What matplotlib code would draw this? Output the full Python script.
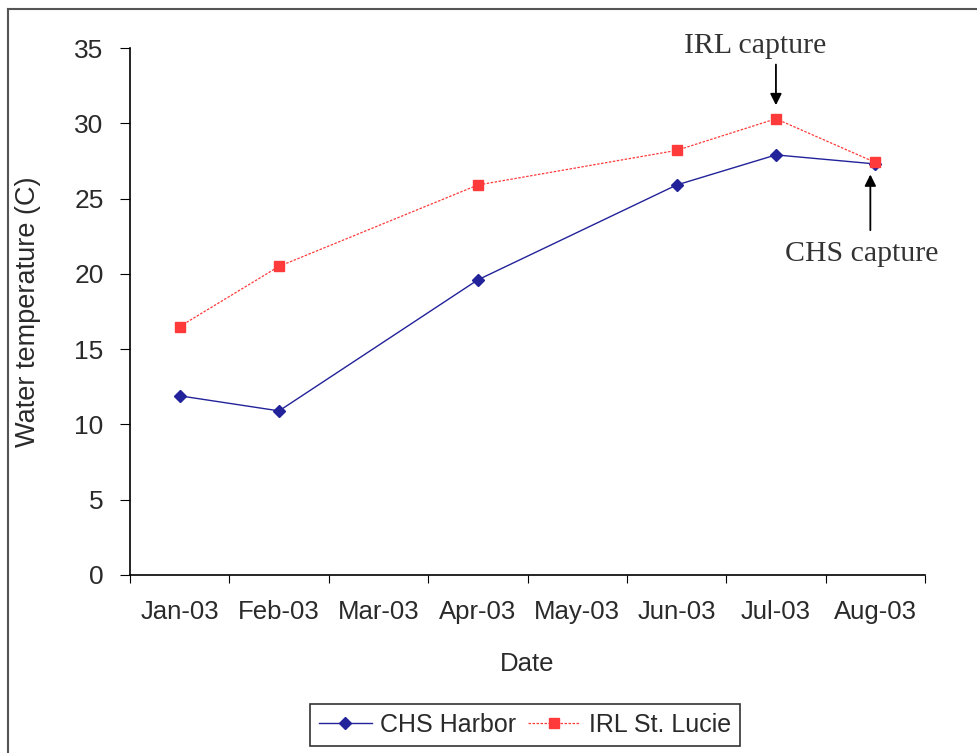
import matplotlib.pyplot as plt
from matplotlib.lines import Line2D

plt.rcParams['font.family'] = ['Liberation Sans', 'DejaVu Sans']

months = ['Jan-03', 'Feb-03', 'Mar-03', 'Apr-03', 'May-03', 'Jun-03', 'Jul-03', 'Aug-03']
sample_idx = [0, 1, 3, 5, 6, 7]
chs_harbor = [11.9, 10.9, 19.6, 25.9, 27.9, 27.3]
irl_st_lucie = [16.5, 20.5, 25.9, 28.2, 30.3, 27.4]

fig = plt.figure(figsize=(9.77, 7.53), dpi=100)
ax = fig.add_axes([130 / 977, 1 - 575 / 753, 795 / 977, 527 / 753])

ax.plot(sample_idx, chs_harbor, color='#22229a', lw=1.0, marker='D', ms=6,
        label='CHS Harbor')
ax.plot(sample_idx, irl_st_lucie, color='#ff3a3a', lw=0.9, marker='s', ms=7,
        ls=(0, (2, 1.2)), label='IRL St. Lucie')

ax.set_xlim(-0.5, len(months) - 0.5)
ax.set_ylim(0, 35)
ax.set_yticks(range(0, 36, 5))
ax.set_xticks([i - 0.5 for i in range(len(months) + 1)])
ax.set_xticklabels([])
ax.set_xticks(range(len(months)), minor=True)
ax.set_xticklabels(months, minor=True)
ax.tick_params(axis='x', which='minor', length=0, pad=18, labelsize=18.5, colors='#2a2a2a')
ax.tick_params(axis='x', which='major', length=6, direction='out')
ax.tick_params(axis='y', length=7, direction='out', pad=12, labelsize=19, labelcolor='#2a2a2a')
for side in ['top', 'right']:
    ax.spines[side].set_visible(False)
for side in ['left', 'bottom']:
    ax.spines[side].set_linewidth(1.2)

ax.set_xlabel('Date', fontsize=18.5, labelpad=20, color='#2a2a2a')
ax.set_ylabel('Water temperature (C)', fontsize=19.5, labelpad=24, color='#2a2a2a')

serif = dict(fontsize=21.5, family='Liberation Serif', color='#333333', ha='center', va='center')
arrow = dict(arrowstyle='-|>', color='black', lw=1.3, mutation_scale=17, shrinkA=0, shrinkB=0)
ax.text(5.79, 35.1, 'IRL capture', clip_on=False, **serif)
ax.annotate('', xy=(6, 31.2), xytext=(6, 33.9), arrowprops=arrow, annotation_clip=False)
ax.text(6.86, 21.3, 'CHS capture', clip_on=False, **serif)
ax.annotate('', xy=(6.95, 26.6), xytext=(6.95, 22.9), arrowprops=arrow, annotation_clip=False)

handles, labels = ax.get_legend_handles_labels()
leg = fig.legend(handles, labels, loc='center', bbox_to_anchor=(525 / 977, 1 - 725 / 753),
                 ncol=2, fontsize=18, frameon=True, fancybox=False, edgecolor='black',
                 handlelength=2.1, handletextpad=0.35, columnspacing=0.45, borderpad=0.35)
leg.get_frame().set_linewidth(1.2)
for t in leg.get_texts():
    t.set_color('#2a2a2a')

fig.add_artist(Line2D([8 / 977, 1], [1 - 9 / 753, 1 - 9 / 753], transform=fig.transFigure,
                      color='#555555', lw=1.5))
fig.add_artist(Line2D([8 / 977, 8 / 977], [0, 1 - 9 / 753], transform=fig.transFigure,
                      color='#555555', lw=1.5))

fig.savefig('out.png', dpi=100)
